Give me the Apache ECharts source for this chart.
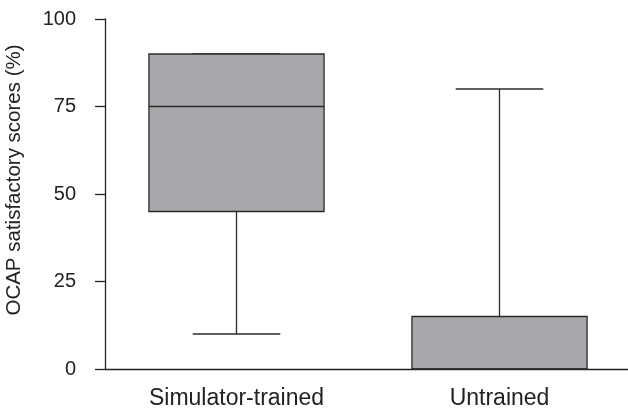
<!DOCTYPE html>
<html>
<head>
<meta charset="utf-8">
<script src="https://cdn.jsdelivr.net/npm/echarts@6/dist/echarts.min.js"></script>
<style>
  html, body { margin: 0; padding: 0; background: #fff; }
  #chart { width: 628px; height: 415px; }
</style>
</head>
<body>
<div id="chart"></div>
<script>
var categories = ['Simulator-trained', 'Untrained'];
var mins = [10, 0];
var q1s = [45, 0];
var medians = [75, 0];
var q3s = [90, 15];
var maxs = [90, 80];
var yTicks = [0, 25, 50, 75, 100];

var boxData = categories.map(function (c, i) {
    return [i, mins[i], q1s[i], medians[i], q3s[i], maxs[i]];
});

var chart = echarts.init(document.getElementById('chart'));
var font = 'Liberation Sans, Arial, sans-serif';

function renderBox(params, api) {
    var idx = api.value(0);
    var bandW = api.size([1, 0])[0];
    var half = bandW * 0.333;
    var capHalf = half / 2;
    var pMin = api.coord([idx, api.value(1)]);
    var pQ1 = api.coord([idx, api.value(2)]);
    var pMed = api.coord([idx, api.value(3)]);
    var pQ3 = api.coord([idx, api.value(4)]);
    var pMax = api.coord([idx, api.value(5)]);
    var cx = pQ1[0];
    var line = { stroke: '#2b2b2b', lineWidth: 1.3 };
    return {
        type: 'group',
        children: [
            { type: 'line', shape: { x1: cx, y1: pQ1[1], x2: cx, y2: pMin[1] }, style: line },
            { type: 'line', shape: { x1: cx, y1: pQ3[1], x2: cx, y2: pMax[1] }, style: line },
            { type: 'line', shape: { x1: cx - capHalf, y1: pMin[1], x2: cx + capHalf, y2: pMin[1] }, style: line },
            { type: 'line', shape: { x1: cx - capHalf, y1: pMax[1], x2: cx + capHalf, y2: pMax[1] }, style: line },
            {
                type: 'rect',
                shape: { x: cx - half, y: pQ3[1], width: half * 2, height: pQ1[1] - pQ3[1] },
                style: { fill: '#a7a8ab', stroke: '#2b2b2b', lineWidth: 1.3 }
            },
            { type: 'line', shape: { x1: cx - half, y1: pMed[1], x2: cx + half, y2: pMed[1] }, style: line }
        ]
    };
}

var option = {
    animation: false,
    grid: { left: 105, right: -3, top: 19, bottom: 46, outerBoundsMode: 'none' },
    xAxis: {
        type: 'category',
        data: categories,
        axisLine: { lineStyle: { color: '#222', width: 1.3 } },
        axisTick: { alignWithLabel: true, length: 10, lineStyle: { color: '#222', width: 1.3 } },
        axisLabel: { color: '#222', fontSize: 23, margin: 18, fontFamily: font }
    },
    yAxis: {
        type: 'value',
        min: yTicks[0],
        max: yTicks[yTicks.length - 1],
        interval: 25,
        name: 'OCAP satisfactory scores (%)',
        nameLocation: 'middle',
        nameGap: 80,
        nameTextStyle: { color: '#222', fontSize: 20.5, fontFamily: font, padding: [0, 0, 0, 28] },
        axisLine: { show: true, lineStyle: { color: '#222', width: 1.3 } },
        axisTick: { show: true, length: 10, lineStyle: { color: '#222', width: 1.3 } },
        axisLabel: { color: '#222', fontSize: 20, margin: 29, fontFamily: font },
        splitLine: { show: false }
    },
    series: [{
        type: 'custom',
        renderItem: renderBox,
        encode: { x: 0, y: [1, 2, 3, 4, 5] },
        data: boxData,
        z: 1
    }]
};
chart.setOption(option);
</script>
</body>
</html>
